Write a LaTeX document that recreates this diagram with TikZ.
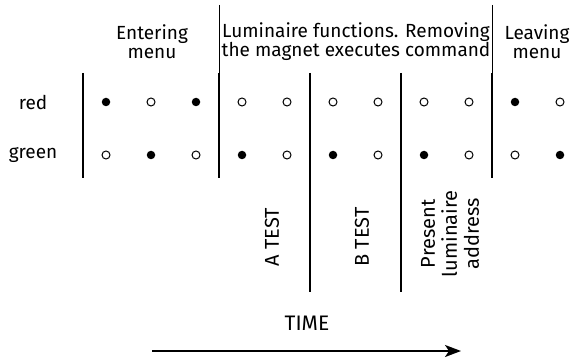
\documentclass[tikz,border=0pt]{standalone}
\usepackage{fontspec}
\setmainfont{Fira Sans}
\usetikzlibrary{arrows.meta}
\begin{document}
\begin{tikzpicture}[x=1pt,y=-1pt,
  thicksep/.style={line width=2pt},
  thinsep/.style={line width=0.9pt},
  on/.style={circle,fill=black,inner sep=0pt,minimum size=8.5pt},
  off/.style={circle,draw=black,line width=1pt,fill=white,inner sep=0pt,minimum size=8pt},
  lbl/.style={font=\fontsize{19}{19}\selectfont, align=center, inner sep=0pt},
  vlbl/.style={font=\fontsize{20}{22}\selectfont, align=center, inner sep=0pt, rotate=90},
]
\useasboundingbox (0,0) rectangle (572,358);
% header texts
\node[lbl] (hEnter) at (152,42) {Entering\\menu};
\node[lbl] (hFunc) at (356,42) {Luminaire functions. Removing\\the magnet executes command};
\node[lbl] (hLeave) at (537,42) {Leaving\\menu};
% row labels
\node[lbl] (red) at (33,102) {red};
\node[lbl] (green) at (33,155) {green};
% separators
\draw[thicksep] (83,73) -- (83,178);
\draw[thinsep] (219,5) -- (219,73);
\draw[thicksep] (219,73) -- (219,178);
\draw[thicksep] (310,73) -- (310,292);
\draw[thicksep] (401,73) -- (401,292);
\draw[thinsep] (492,5) -- (492,73);
\draw[thicksep] (492,73) -- (492,178);
% dots
\foreach \x/\s [count=\i] in {106/on,151/off,196/on,242/off,287/off,333/off,378/off,424/off,469/off,515/on,560/off}
  \node[\s] (r\i) at (\x,102) {};
\foreach \x/\s [count=\i] in {106/off,151/on,196/off,242/on,287/off,333/on,378/off,424/on,469/off,515/off,560/on}
  \node[\s] (g\i) at (\x,155) {};
% vertical labels
\node[vlbl] (atest) at (272,237) {A TEST};
\node[vlbl] (btest) at (362,237) {B TEST};
\node[vlbl] (addr) at (450,234) {Present\\luminaire\\address};
% time
\node[lbl,font=\fontsize{21}{21}\selectfont] (time) at (307,323) {TIME};
\coordinate (ts) at (152,351);
\coordinate (te) at (461,351);
\draw[line width=2pt,-{Stealth[length=16pt,width=12pt,inset=4pt]}] (ts) -- (te);
\end{tikzpicture}
\end{document}
